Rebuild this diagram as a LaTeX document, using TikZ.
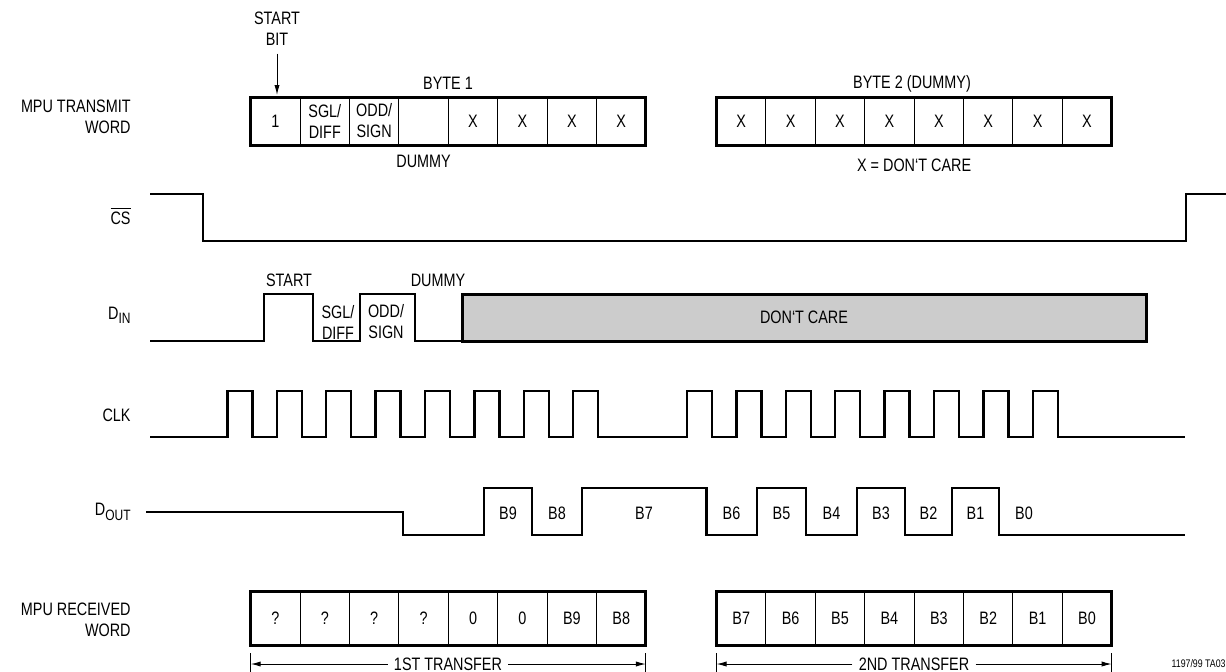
\documentclass[tikz,border=0pt]{standalone}
\usepackage{fontspec}
\setmainfont{Liberation Sans}[FakeStretch=0.8]
\usepackage{xcolor}
\usetikzlibrary{arrows.meta,positioning}
\definecolor{dcgrey}{HTML}{CCCCCC}
\newcommand{\sigsub}[1]{\raisebox{-0.45ex}{\fontsize{7.5}{7.5}\selectfont #1}}

\begin{document}
\begin{tikzpicture}[
  x=0.5pt, y=-0.5pt,
  font=\fontsize{9}{10.5}\selectfont,
  lbl/.style={anchor=east,align=right,inner sep=0pt},
  txt/.style={inner sep=0pt,align=center},
  cell/.style={draw,line width=0.5pt,minimum width=24.7pt,minimum height=24pt,inner sep=0pt,outer sep=0pt,align=center},
  wordframe/.style={line width=1.5pt},
  wave/.style={line width=1.2pt,line join=miter},
  arr/.style={-{Latex[length=5pt,width=2.6pt]},line width=0.5pt},
  tick/.style={line width=0.5pt}
]
\fill[white] (0,0) rectangle (1226,671);
\useasboundingbox (0,0) rectangle (1226,671);

% transmitted word
\node[lbl] (tw) at (131,117) {MPU TRANSMIT\\WORD};
\foreach \t [count=\i] in {1,{SGL/\\DIFF},{ODD/\\SIGN},{},X,X,X,X}
  \node[cell] (a\i) at ({250.7+49.4*(\i-0.5)},121) {\t};
\draw[wordframe] (a1.north west) rectangle (a8.south east);
\foreach \i in {1,...,8}
  \node[cell] (b\i) at ({716.5+49.4*(\i-0.5)},121) {X};
\draw[wordframe] (b1.north west) rectangle (b8.south east);
\node[txt] (sb) at (277,28.5) {START\\BIT};
\draw[arr,shorten <=4pt,shorten >=1pt] (sb.south) -- (sb.south |- a1.north);
\node[txt] (by1) at (448,83) {BYTE 1};
\node[txt,below=5pt of a4] (dm1) {DUMMY};
\node[txt] (by2) at (912,84) {BYTE 2 (DUMMY)};
\node[txt,below=7pt of b4.south east] (dc1) {X = DON`T CARE};

% chip select
\node[lbl] (cs) at (131,216) {$\overline{\mbox{CS}}$};
\draw[wave] (150,194) -| (202.7,241) -| (1185.7,194) -- (1226,194);

% data in
\node[lbl] (din) at (131,315) {D\sigsub{IN}};
\node[draw,wordframe,fill=dcgrey,minimum width=342pt,minimum height=23.5pt,inner sep=0pt,outer sep=0pt] (dc) at (804,317.5) {DON`T CARE};
\draw[wave] (150,341) -| (264,294) -| (313,341) -| (360,294) -| (415,341) -- (dc.south west);
\node[txt] (st) at (289,280) {START};
\node[txt] (dm2) at (438,280) {DUMMY};
\node[txt] (sd) at (338,322) {SGL/\\DIFF};
\node[txt] (os) at (386,322) {ODD/\\SIGN};

% clock
\node[lbl] (clk) at (131,415) {CLK};
\draw[wave] (150,437)
  \foreach \k in {0,...,7} { -- ({227.3+49.4*\k},437) -- ++(0,-46) -- ++(25,0) -- ++(0,46) }
  \foreach \k in {0,...,7} { -- ({687+49.4*\k},437) -- ++(0,-46) -- ++(25,0) -- ++(0,46) }
  -- (1185,437);

% data out
\node[lbl] (dout) at (131,512) {D\sigsub{OUT}};
\draw[wave] (146,512) -| (403,535) -| (484,488) -| (532,535) -| (582,488) -| (706.5,535)
  -| (757,488) -| (806,535) -| (857,488) -| (905,535) -| (952,488) -| (999,535) -- (1185,535);
\foreach \t/\x in {B9/508,B8/557,B7/644,B6/731.5,B5/781.5,B4/831.5,B3/881,B2/928.5,B1/975.5,B0/1024}
  \node[txt] (o\t) at (\x,513) {\t};

% received word
\node[lbl] (rw) at (131,620) {MPU RECEIVED\\WORD};
\foreach \t [count=\i] in {?,?,?,?,0,0,B9,B8}
  \node[cell,minimum height=27pt] (r\i) at ({250.7+49.4*(\i-0.5)},618) {\t};
\draw[wordframe] (r1.north west) rectangle (r8.south east);
\foreach \t [count=\i] in {B7,B6,B5,B4,B3,B2,B1,B0}
  \node[cell,minimum height=27pt] (s\i) at ({716.5+49.4*(\i-0.5)},618) {\t};
\draw[wordframe] (s1.north west) rectangle (s8.south east);

% transfers
\foreach \n in {r1.south west,r8.south east,s1.south west,s8.south east}
  \draw[tick] (\n) ++(0,8) -- ++(0,24);
\node[txt,inner xsep=3pt] (tr1) at (448,664) {1ST TRANSFER};
\draw[arr] (tr1.west) -- (r1.south west |- tr1.west);
\draw[arr] (tr1.east) -- (r8.south east |- tr1.east);
\node[txt,inner xsep=3pt] (tr2) at (914,664) {2ND TRANSFER};
\draw[arr] (tr2.west) -- (s1.south west |- tr2.west);
\draw[arr] (tr2.east) -- (s8.south east |- tr2.east);
\node[anchor=east,inner sep=0pt,font=\fontsize{5.5}{6}\selectfont] (tag) at (1226,664) {1197/99 TA03};
\end{tikzpicture}
\end{document}
